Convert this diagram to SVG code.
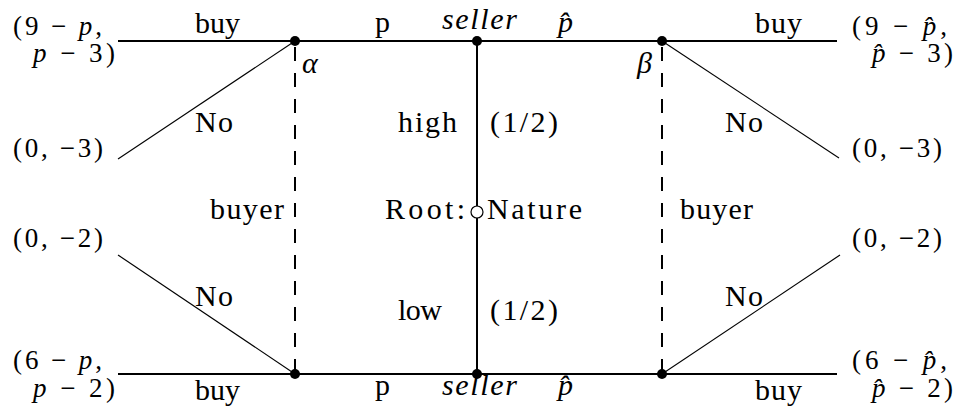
<svg xmlns="http://www.w3.org/2000/svg" width="957" height="416" viewBox="0 0 957 416">
<style>
.i{font-style:italic}
.thick{stroke:#000;stroke-width:2;fill:none}
.thin{stroke:#000;stroke-width:1.1;fill:none}
.dash{stroke:#000;stroke-width:2;fill:none;stroke-dasharray:14 12}
.dot{fill:#000}
.lab{font-family:'Liberation Serif','Times New Roman',serif;font-size:30px;fill:#000}
.pay{font-size:27px}
</style>
<rect width="957" height="416" fill="#fff"/>
<g id="connectors">
<line class="thick" x1="118" y1="41" x2="837" y2="41"/>
<line class="thick" x1="118" y1="374" x2="837" y2="374"/>
<line class="thick" x1="477" y1="41" x2="477" y2="374"/>
<line class="thin" x1="295" y1="41" x2="118" y2="159"/>
<line class="thin" x1="295" y1="374" x2="118" y2="255"/>
<line class="thin" x1="662" y1="41" x2="839" y2="158"/>
<line class="thin" x1="662" y1="374" x2="840" y2="255"/>
<line class="dash" x1="295" y1="47" x2="295" y2="374"/>
<line class="dash" x1="662" y1="47" x2="662" y2="374"/>
</g>
<g class="lab">
<g id="node-alpha"><circle class="dot" cx="295" cy="41" r="5"/><text class="i" x="302" y="73">α</text></g>
<g id="node-beta"><circle class="dot" cx="662" cy="41" r="5"/><text class="i" x="637" y="73">β</text></g>
<g id="node-alpha-low"><circle class="dot" cx="295" cy="374" r="5"/></g>
<g id="node-beta-low"><circle class="dot" cx="662" cy="374" r="5"/></g>
<g id="node-seller-high"><circle class="dot" cx="477" cy="41" r="5"/><text class="i" x="442" y="29" textLength="75" lengthAdjust="spacing">seller</text></g>
<g id="node-seller-low"><circle class="dot" cx="477" cy="374" r="5"/><text class="i" x="442" y="395" textLength="75" lengthAdjust="spacing">seller</text></g>
<g id="node-root"><circle cx="477" cy="212" r="6" fill="#fff" stroke="#000" stroke-width="1.2"/>
<text x="385" y="219" textLength="80" lengthAdjust="spacing">Root:</text>
<text x="487" y="219" textLength="95" lengthAdjust="spacing">Nature</text></g>
<g id="labels">
<text x="195" y="33" textLength="45" lengthAdjust="spacing">buy</text>
<text x="755" y="33" textLength="47" lengthAdjust="spacing">buy</text>
<text x="195" y="400" textLength="45" lengthAdjust="spacing">buy</text>
<text x="755" y="400" textLength="47" lengthAdjust="spacing">buy</text>
<text x="375" y="32">p</text>
<text x="375" y="395">p</text>
<text class="i" x="558" y="32">p̂</text>
<text class="i" x="558" y="395">p̂</text>
<text x="195" y="132" textLength="38" lengthAdjust="spacing">No</text>
<text x="725" y="132" textLength="38" lengthAdjust="spacing">No</text>
<text x="195" y="306" textLength="38" lengthAdjust="spacing">No</text>
<text x="725" y="306" textLength="38" lengthAdjust="spacing">No</text>
<text x="210" y="219" textLength="74" lengthAdjust="spacing">buyer</text>
<text x="680" y="219" textLength="73" lengthAdjust="spacing">buyer</text>
<text x="398" y="132" textLength="59" lengthAdjust="spacing">high</text>
<text x="490" y="132" textLength="68" lengthAdjust="spacing">(1/2)</text>
<text x="398" y="320" textLength="44" lengthAdjust="spacing">low</text>
<text x="490" y="320" textLength="68" lengthAdjust="spacing">(1/2)</text>
</g>
<g id="payoffs" class="pay">
<text x="13" y="35" textLength="89" lengthAdjust="spacing">(9 − <tspan class="i">p</tspan>,</text>
<text x="33" y="62" textLength="82" lengthAdjust="spacing"><tspan class="i">p</tspan> − 3)</text>
<text x="13" y="157" textLength="90" lengthAdjust="spacing">(0, −3)</text>
<text x="13" y="247" textLength="90" lengthAdjust="spacing">(0, −2)</text>
<text x="13" y="369" textLength="89" lengthAdjust="spacing">(6 − <tspan class="i">p</tspan>,</text>
<text x="33" y="397" textLength="82" lengthAdjust="spacing"><tspan class="i">p</tspan> − 2)</text>
<text x="852" y="35" textLength="95" lengthAdjust="spacing">(9 − <tspan class="i">p̂</tspan>,</text>
<text x="872" y="62" textLength="81" lengthAdjust="spacing"><tspan class="i">p̂</tspan> − 3)</text>
<text x="852" y="157" textLength="90" lengthAdjust="spacing">(0, −3)</text>
<text x="852" y="247" textLength="90" lengthAdjust="spacing">(0, −2)</text>
<text x="852" y="369" textLength="95" lengthAdjust="spacing">(6 − <tspan class="i">p̂</tspan>,</text>
<text x="872" y="397" textLength="81" lengthAdjust="spacing"><tspan class="i">p̂</tspan> − 2)</text>
</g>
</g>
</svg>
